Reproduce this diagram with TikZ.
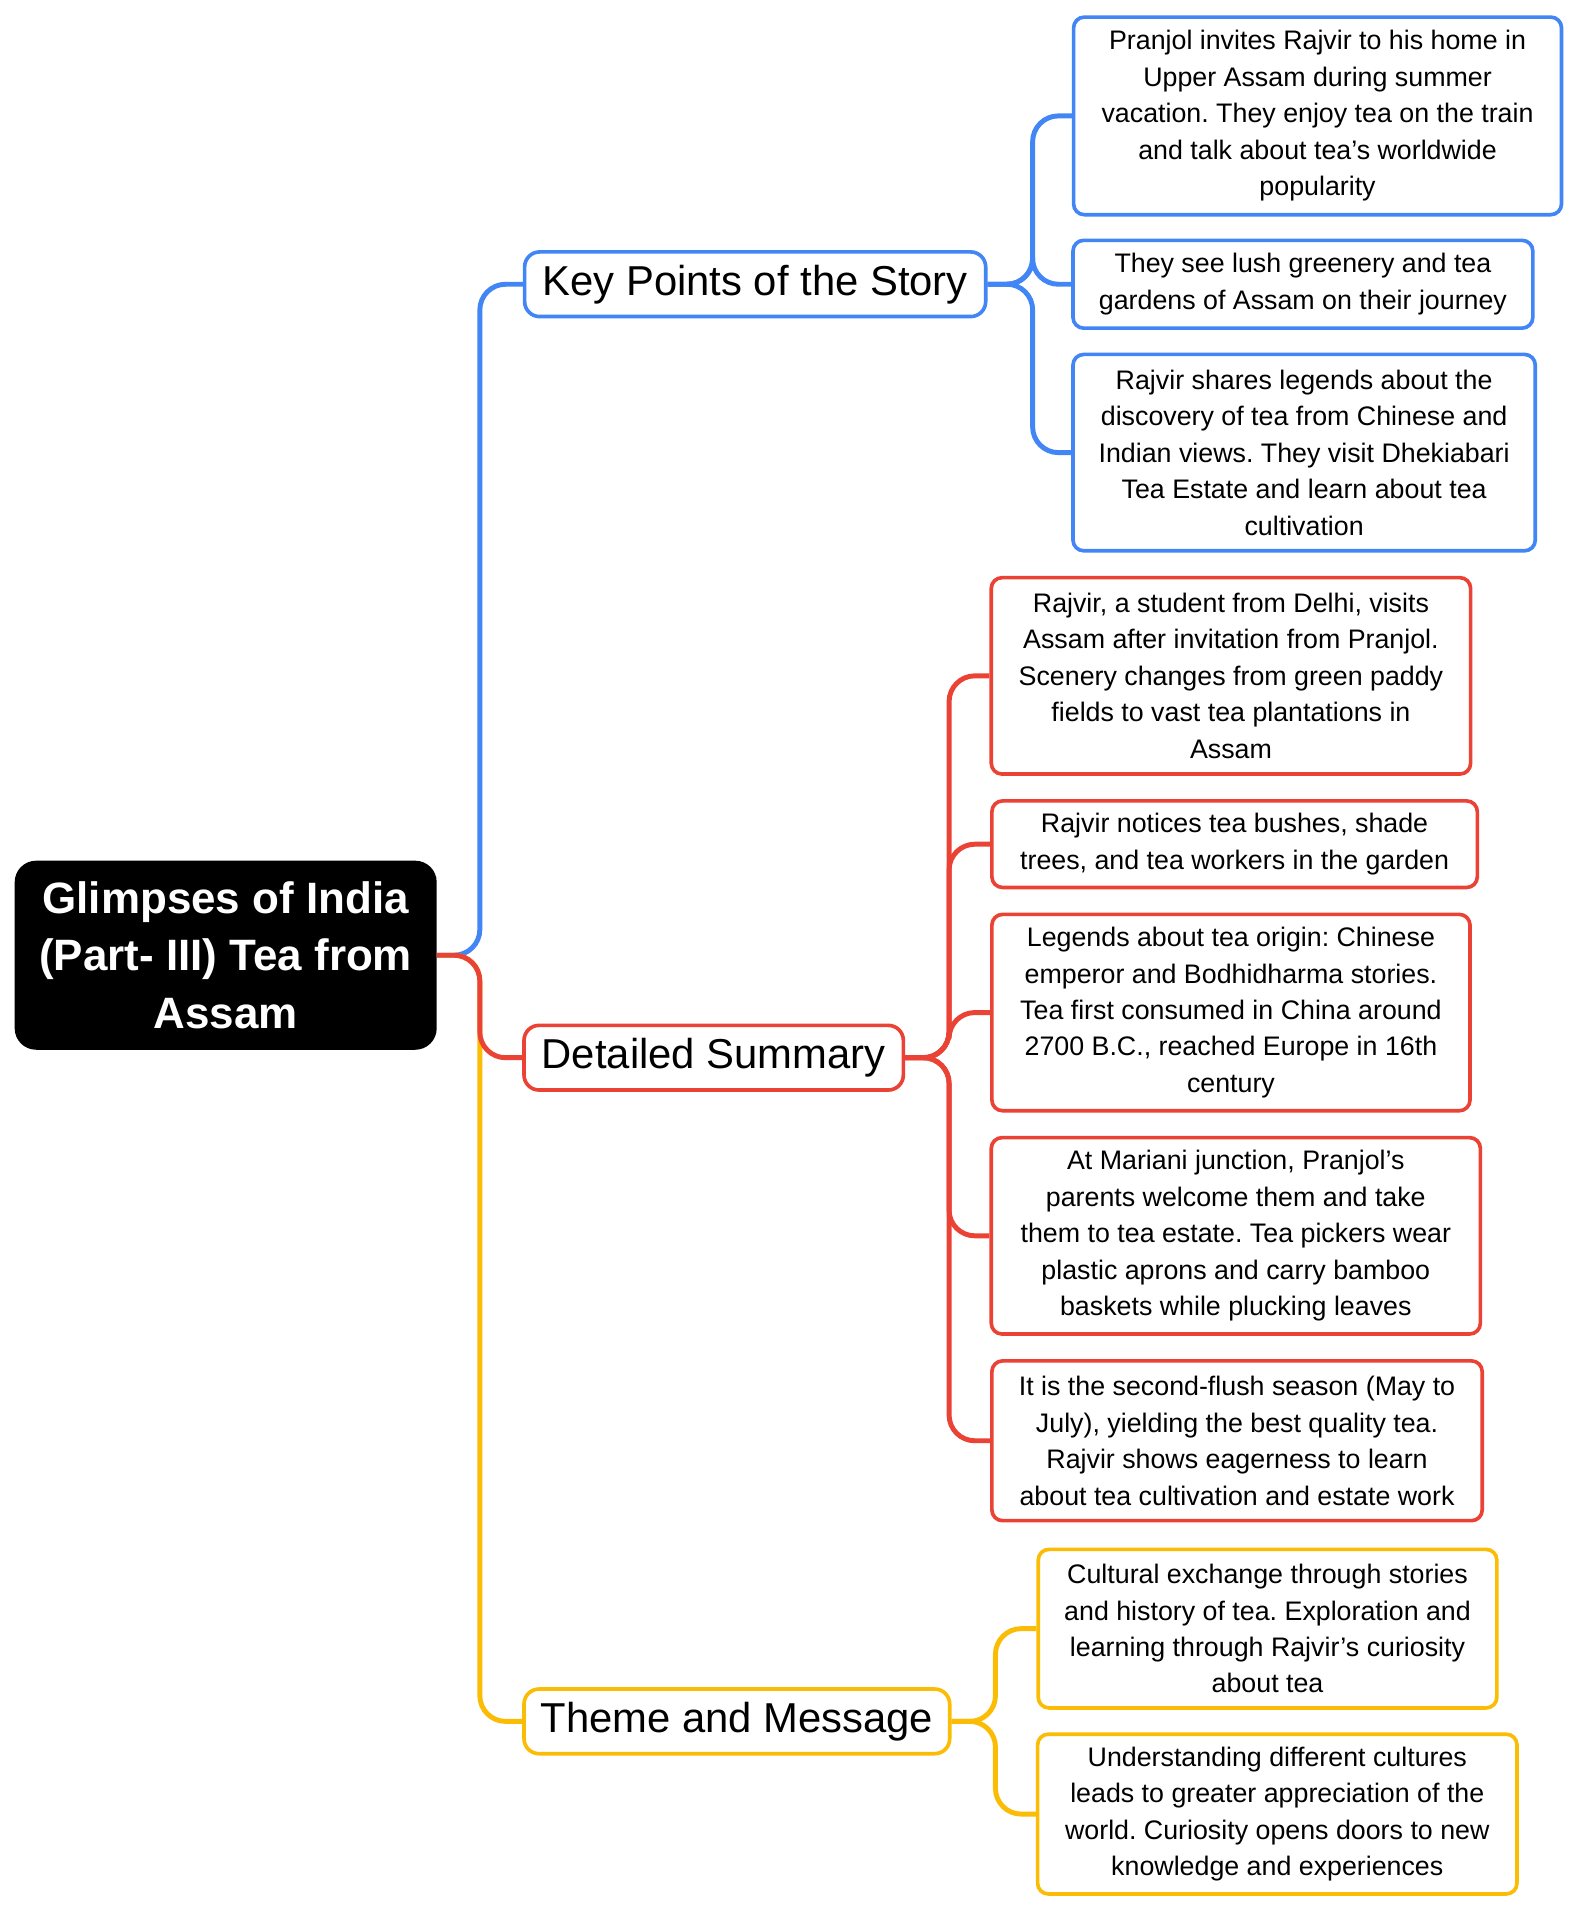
\documentclass[tikz,border=0pt]{standalone}
\usepackage{fontspec}
\setmainfont{Liberation Sans}
\usepackage{tikz}
\usetikzlibrary{positioning}
\definecolor{kblue}{RGB}{66,133,244}
\definecolor{kred}{RGB}{234,67,53}
\definecolor{kyellow}{RGB}{251,188,5}
\frenchspacing

\begin{document}
\begin{tikzpicture}[x=0.02cm,y=-0.02cm]
	\useasboundingbox (0,0) rectangle (1290,1564);
	\tikzset{
		leaf/.style={rectangle,draw,line width=1.7pt,rounded corners=5pt,align=center,font=\fontsize{12.5}{17}\selectfont,inner sep=3pt},
		branch/.style={rectangle,draw,line width=1.7pt,rounded corners=7pt,font=\fontsize{19.5}{23}\selectfont,inner sep=3pt,minimum height=1.06cm},
		link/.style={line width=2.3pt,rounded corners=12pt}
	}
	\node[fill=black,rounded corners=10pt,text=white,font=\bfseries\fontsize{20.5}{27}\selectfont,align=center,minimum width=6.92cm,minimum height=3.1cm] (root) at (185,783) {Glimpses of India\\(Part- III) Tea from\\Assam};

	\begin{scope}[every node/.style={branch}]
		\node[draw=kblue,minimum width=7.56cm] (keys) at (619,233) {Key Points of the Story};
		\node[draw=kred,minimum width=6.22cm] (summary) at (585,867) {Detailed Summary};
		\node[draw=kyellow,minimum width=6.98cm] (theme) at (604,1411) {Theme and Message};
	\end{scope}

	\begin{scope}[every node/.style={leaf,draw=kblue}]
		\node[minimum width=8cm,minimum height=3.24cm] (k1) at (1080,95) {Pranjol invites Rajvir to his home in\\Upper Assam during summer\\vacation. They enjoy tea on the train\\and talk about tea's worldwide\\popularity};
		\node[minimum width=7.54cm,minimum height=1.44cm] (k2) at (1068,233) {They see lush greenery and tea\\gardens of Assam on their journey};
		\node[minimum width=7.58cm,minimum height=3.22cm] (k3) at (1069,371) {Rajvir shares legends about the\\discovery of tea from Chinese and\\Indian views. They visit Dhekiabari\\Tea Estate and learn about tea\\cultivation};
	\end{scope}

	\begin{scope}[every node/.style={leaf,draw=kred}]
		\node[minimum width=7.86cm,minimum height=3.22cm] (s1) at (1009,554) {Rajvir, a student from Delhi, visits\\Assam after invitation from Pranjol.\\Scenery changes from green paddy\\fields to vast tea plantations in\\Assam};
		\node[minimum width=7.96cm,minimum height=1.42cm] (s2) at (1012,692) {Rajvir notices tea bushes, shade\\trees, and tea workers in the garden};
		\node[minimum width=7.84cm,minimum height=3.22cm] (s3) at (1009,830) {Legends about tea origin: Chinese\\emperor and Bodhidharma stories.\\Tea first consumed in China around\\2700 B.C., reached Europe in 16th\\century};
		\node[minimum width=8.02cm,minimum height=3.22cm] (s4) at (1013,1013) {At Mariani junction, Pranjol’s\\parents welcome them and take\\them to tea estate. Tea pickers wear\\plastic aprons and carry bamboo\\baskets while plucking leaves};
		\node[minimum width=8.04cm,minimum height=2.62cm] (s5) at (1014,1181) {It is the second-flush season (May to\\July), yielding the best quality tea.\\Rajvir shows eagerness to learn\\about tea cultivation and estate work};
	\end{scope}

	\begin{scope}[every node/.style={leaf,draw=kyellow}]
		\node[minimum width=7.52cm,minimum height=2.6cm] (t1) at (1039,1335) {Cultural exchange through stories\\and history of tea. Exploration and\\learning through Rajvir’s curiosity\\about tea};
		\node[minimum width=7.86cm,minimum height=2.62cm] (t2) at (1047,1487) {Understanding different cultures\\leads to greater appreciation of the\\world. Curiosity opens doors to new\\knowledge and experiences};
	\end{scope}

	% branches
	\draw[link,kblue] (root.east) -- ++(35,0) |- (keys.west);
	\draw[link,kyellow] (root.east) -- ++(35,0) |- (theme.west);
	\draw[link,kred] (root.east) -- ++(35,0) |- (summary.west);

	% leaves
	\foreach \n in {k1,k2,k3}
		\draw[link,kblue] (keys.east) -- ++(37,0) |- (\n.west);
	\foreach \n in {s1,s2,s3,s4,s5}
		\draw[link,kred] (summary.east) -- ++(36,0) |- (\n.west);
	\foreach \n in {t1,t2}
		\draw[link,kyellow] (theme.east) -- ++(36,0) |- (\n.west);
\end{tikzpicture}
\end{document}
